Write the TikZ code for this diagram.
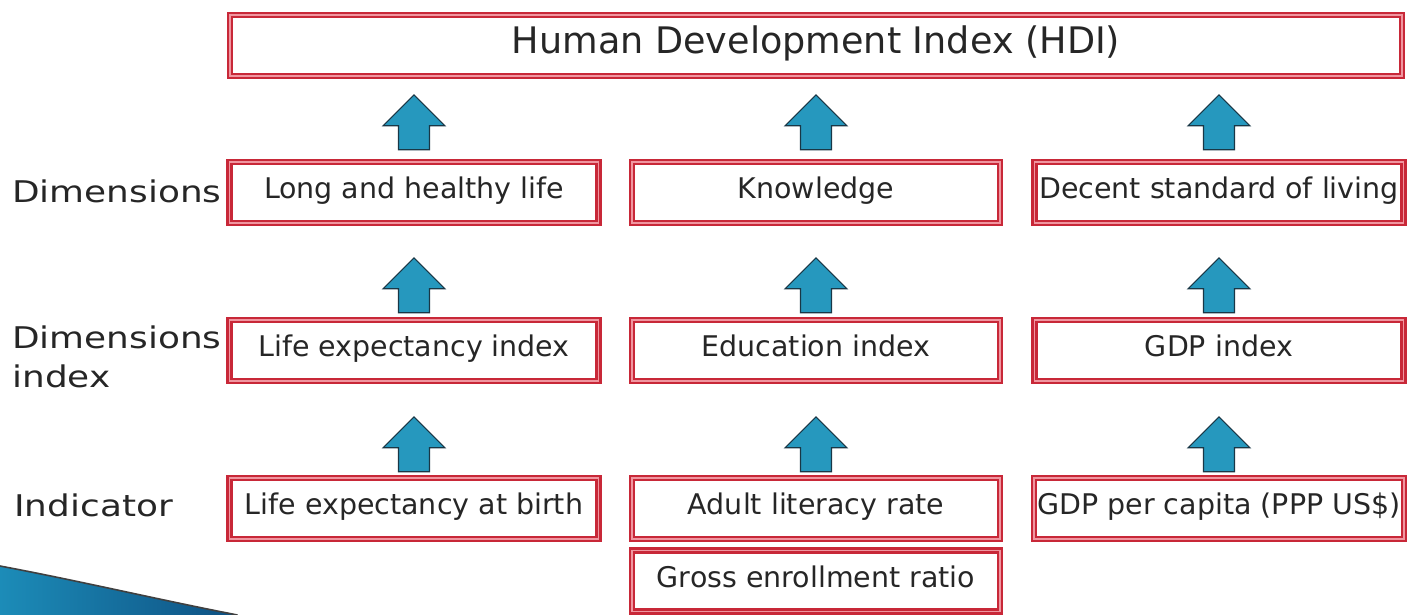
\documentclass[tikz,border=0pt]{standalone}
\usepackage{fontspec}
\setmainfont{DejaVu Sans}
\newfontfamily\labelfont{DejaVu Sans}[FakeStretch=1.2]
\usepackage{tikz}
\usetikzlibrary{positioning}
\usetikzlibrary{calc}

\definecolor{hdired}{RGB}{200,40,56}
\definecolor{hdipink}{RGB}{240,150,160}
\definecolor{arrowblue}{RGB}{38,152,190}
\definecolor{arrowedge}{RGB}{25,55,70}
\definecolor{swooshA}{RGB}{28,140,184}
\definecolor{swooshB}{RGB}{14,80,130}

\tikzset{
	hdibox/.style={draw=hdired, double=hdipink, line width=1.4pt, double distance=1pt, rectangle, inner sep=2pt, minimum height=1.22cm, text height=8pt, text depth=1pt, text=black!85, font=\fontsize{16.2}{19}\selectfont},
	topbox/.style={hdibox, minimum width=23.44cm, text height=12pt, text depth=3pt, font=\fontsize{20.8}{24}\selectfont},
	sidebox/.style={hdibox, minimum width=7.38cm},
	midbox/.style={hdibox, minimum width=7.36cm},
	% row names on the left
	rowlabel/.style={anchor=west, align=left, inner sep=0pt, text=black!85, font=\labelfont\fontsize{17}{22}\selectfont},
	arrowbody/.style={fill=arrowblue, draw=arrowedge, line width=0.6pt, line join=miter},
	uparrow/.pic={
		\draw[arrowbody] (-0.31,0) -- (0.31,0) -- (0.31,0.48) -- (0.62,0.48) -- (0,1.1) -- (-0.62,0.48) -- (-0.31,0.48) -- cycle;
	},
}

\begin{document}
\begin{tikzpicture}[node distance=3.16cm]
			\useasboundingbox (0,0) rectangle (28.16,-12.3);
			
			% swoosh in the lower left corner
			\fill[left color=swooshA, right color=swooshB] (0,-11.32) .. controls (1.6,-11.62) and (3.2,-12.0) .. (4.75,-12.3) -- (0,-12.3) -- cycle;
			\draw[black!75, line width=0.9pt] (0,-11.32) .. controls (1.6,-11.62) and (3.2,-12.0) .. (4.75,-12.3);
			
			\node (hdi) [topbox] at (16.32,-0.91) {Human Development Index (HDI)};
			
			\node (know) [midbox, below of=hdi, yshift=0.22cm] {Knowledge};
			\node (life) [sidebox, left of=know, xshift=-4.88cm] {Long and healthy life};
			\node (living) [sidebox, right of=know, xshift=4.9cm] {Decent standard of living};
			
			\node (edu) [midbox, below of=know] {Education index};
			\node (lifeidx) [sidebox, below of=life] {Life expectancy index};
			\node (gdpidx) [sidebox, below of=living] {GDP index};
			
			\node (literacy) [midbox, below of=edu] {Adult literacy rate};
			\node (birth) [sidebox, below of=lifeidx] {Life expectancy at birth};
			\node (gdppc) [sidebox, below of=gdpidx] {GDP per capita (PPP US\$)};
			\node (gross) [midbox, below of=literacy, yshift=1.71cm] {Gross enrollment ratio};
			
			\node (dimlab) [rowlabel] at (0.24,-3.82) {Dimensions};
			\node (idxlab) [rowlabel] at (0.24,-7.14) {Dimensions\\index};
			\node (indlab) [rowlabel] at (0.28,-10.1) {Indicator};
			
			\begin{scope}
				\pic at ([yshift=0.22cm]life.north) {uparrow};
				\pic at ([yshift=0.22cm]know.north) {uparrow};
				\pic at ([yshift=0.22cm]living.north) {uparrow};
				
				\pic at ([yshift=0.12cm]lifeidx.north) {uparrow};
				\pic at ([yshift=0.12cm]edu.north) {uparrow};
				\pic at ([yshift=0.12cm]gdpidx.north) {uparrow};
				
				\pic at ([yshift=0.1cm]birth.north) {uparrow};
				\pic at ([yshift=0.1cm]literacy.north) {uparrow};
				\pic at ([yshift=0.1cm]gdppc.north) {uparrow};
			\end{scope}
\end{tikzpicture}
\end{document}
